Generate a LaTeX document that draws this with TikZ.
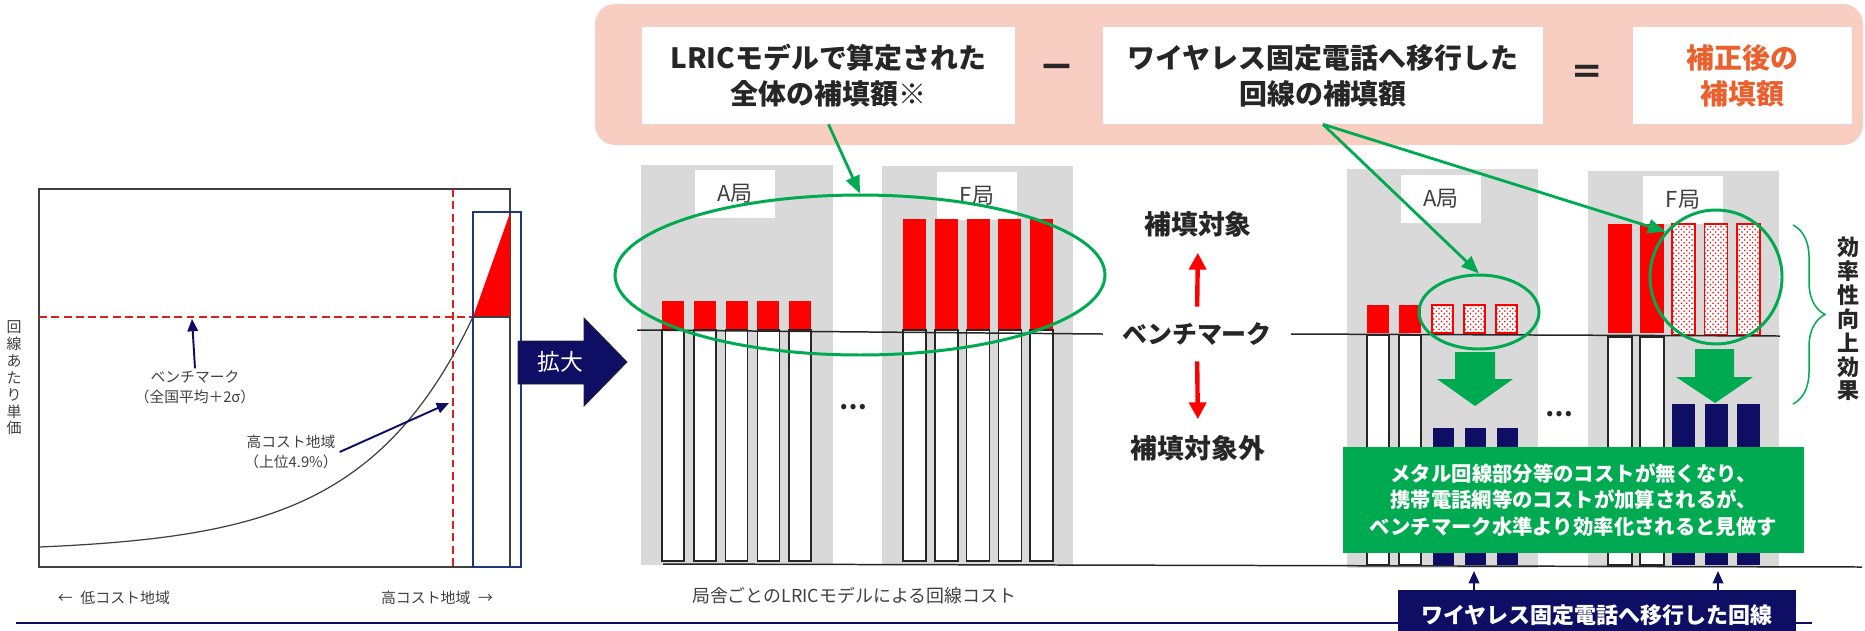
\documentclass[tikz,border=0pt]{standalone}
\usepackage{fontspec}
\setmainfont{Noto Sans CJK JP}
\usepackage{tikz}
\usetikzlibrary{arrows.meta,patterns,shapes.geometric,decorations.pathreplacing}
\definecolor{navy}{RGB}{14,14,100}
\definecolor{rectblue}{RGB}{31,56,120}
\definecolor{pinkbg}{RGB}{248,206,194}
\definecolor{panelgray}{RGB}{217,217,217}
\definecolor{txtgray}{RGB}{64,64,64}
\definecolor{darktxt}{RGB}{38,38,38}
\definecolor{mygreen}{RGB}{0,170,80}
\definecolor{orangetxt}{RGB}{236,96,46}
\definecolor{dashred}{RGB}{220,30,30}
\tikzset{
	smalltext/.style={text=txtgray,font=\fontsize{8.4pt}{11.3pt}\selectfont,align=center,inner sep=1pt},
	axistext/.style={text=txtgray,font=\fontsize{8.5pt}{9.6pt}\selectfont,align=center,inner sep=0pt},
	labelbox/.style={fill=white,text=txtgray,font=\fontsize{12.5pt}{14pt}\selectfont,minimum width=1.6cm,minimum height=0.96cm,inner sep=0pt},
	bigtext/.style={text=darktxt,font=\bfseries\fontsize{14.2pt}{16pt}\selectfont,inner sep=0.06cm},
	formbox/.style={fill=white,font=\bfseries\fontsize{15.9pt}{20.4pt}\selectfont,text=darktxt,align=center,inner sep=0pt,minimum height=1.94cm},
	barline/.style={draw=darktxt,fill=white,line width=0.85pt},
	dotbar/.style={draw=red,fill=white,line width=0.85pt,postaction={pattern=crosshatch dots,pattern color=red}},
	hl/.style={draw=mygreen,line width=1.7pt,ellipse,inner sep=0pt},
	navyarrow/.style={navy,line width=1.1pt,-{Triangle[length=7pt,width=6pt]}},
	greenarrow/.style={mygreen,line width=1.6pt,-{Triangle[length=10pt,width=8pt]}},
	redarrow/.style={red,line width=2.5pt,-{Triangle[length=9.6pt,width=9.6pt]},shorten <=0.25cm,shorten >=0.25cm},
	dashline/.style={draw=dashred,line width=1.1pt,dash pattern=on 4.5pt off 2.5pt},
	bmline/.style={draw=darktxt,line width=0.85pt}
}
\begin{document}
\begin{tikzpicture}[x=0.02cm,y=-0.02cm]
	\useasboundingbox (0,0) rectangle (1865,630);
	\draw[draw=txtgray,line width=1.1pt] (39,189) rectangle (510,567);
	\draw[dashline] (39,317) -- (473,317);
	\draw[dashline] (453,189) -- (453,567);
	\draw[draw=txtgray,line width=0.7pt] plot[domain=39:473,samples=100] (\x,{547-4.72*(exp(0.009*(\x-39))-1)});
	\fill[red] (473,317) -- (510,213) -- (510,317) -- cycle;
	\draw[draw=txtgray,line width=0.6pt] (473,317) -- (510,317);
	\draw[rectblue,line width=1.5pt] (473,212) rectangle (521,567);
	\node[smalltext] (bmlabel) at (195,387) {ベンチマーク\\（全国平均＋2σ）};
	\coordinate (bmpt) at (192,319);
	\draw[navyarrow] (bmlabel.north) -- (bmpt);
	\node[smalltext] (hclabel) at (291,452) {高コスト地域\\（上位4.9\%）};
	\coordinate (hcpt) at (449,403);
	\draw[navyarrow] (hclabel.east) -- (hcpt);
	\node[axistext] (yaxis) at (14,378) {回\\線\\あ\\た\\り\\単\\価};
	\node[axistext] (lowcost) at (114,598) {←\enspace 低コスト地域};
	\node[axistext] (highcost) at (437,598) {高コスト地域\enspace →};
	\draw[navy,line width=0.85pt] (16,623) -- (1812,623);
	\draw[fill=navy,draw=darktxt,line width=0.5pt] (518,341) -- (584,341) -- (584,318) -- (627,362) -- (584,406) -- (584,384) -- (518,384) -- cycle;
	\node[text=white,font=\fontsize{13pt}{14pt}\selectfont,inner sep=0pt] (expand) at (560,362) {拡大};

	\fill[panelgray] (641,165) rectangle (833,565);
	\fill[panelgray] (882,166) rectangle (1073,565);
	\node[labelbox] (lA) at (735,194) {A局};
	\node[labelbox] (lF) at (977,196) {F局};
	\foreach \i in {0,...,4} {
		\fill[red] ({662+31.8*\i},301) rectangle ++(22,29);
		\draw[barline] ({662+31.8*\i},330) rectangle ++(22,231);
		\fill[red] ({903+31.8*\i},219) rectangle ++(23,111);
		\draw[barline] ({903+31.8*\i},330) rectangle ++(23,231);
	}
	\node[text=darktxt,font=\bfseries\fontsize{14pt}{14pt}\selectfont,inner sep=0pt] (dotsL) at (853,407) {…};
	\node[text=txtgray,font=\fontsize{10.2pt}{12pt}\selectfont,inner sep=0pt] (costlabel) at (854,596) {局舎ごとのLRICモデルによる回線コスト};

	\node[bigtext,inner xsep=0.38cm] (bmtext) at (1197,334) {ベンチマーク};
	\node[bigtext,font=\bfseries\fontsize{15.3pt}{16pt}\selectfont] (tgt) at (1198,224) {補填対象};
	\node[bigtext,font=\bfseries\fontsize{15.3pt}{16pt}\selectfont] (nontgt) at (1198,448) {補填対象外};
	\draw[redarrow] (bmtext.north) -- (tgt.south);
	\draw[redarrow] (bmtext.south) -- (nontgt.north);
	\draw[bmline] (637,330) -- (bmtext.west);

	\fill[panelgray] (1347,169) rectangle (1538,568);
	\fill[panelgray] (1588,171) rectangle (1779,568);
	\node[labelbox] (rA) at (1441,199) {A局};
	\node[labelbox] (rF) at (1683,200) {F局};
	\foreach \i in {0,1} {
		\fill[red] ({1367+32*\i},305) rectangle ++(22,28);
		\draw[barline] ({1367+32*\i},335) rectangle ++(22,230);
		\fill[red] ({1608+32*\i},224) rectangle ++(24,109);
		\draw[barline] ({1608+32*\i},337) rectangle ++(24,228);
	}
	\foreach \i in {0,1,2} {
		\draw[dotbar] ({1432+32*\i},305) rectangle ++(21,28);
		\fill[navy] ({1433+32*\i},428) rectangle ++(21,137);
		\draw[dotbar] ({1672+32.5*\i},224) rectangle ++(23,111);
		\fill[navy] ({1672+32.5*\i},404) rectangle ++(23,161);
	}
	\draw[bmline] (bmtext.east) -- (1780,336);
	\draw[bmline] (663,564) -- (1862,567);
	\node[text=darktxt,font=\bfseries\fontsize{14pt}{14pt}\selectfont,inner sep=0pt] (dotsR) at (1559,414) {…};
	\fill[mygreen] (1455,352) -- (1495,352) -- (1495,379) -- (1513,379) -- (1475,406) -- (1437,379) -- (1455,379) -- cycle;
	\fill[mygreen] (1695,349) -- (1734,349) -- (1734,377) -- (1753,377) -- (1715,403) -- (1676,377) -- (1695,377) -- cycle;
	\node[fill=mygreen,text=white,font=\bfseries\fontsize{11.6pt}{15.3pt}\selectfont,align=center,minimum width=9.22cm,minimum height=2.12cm,inner sep=0pt] (note) at (1573.5,500) {メタル回線部分等のコストが無くなり、\\携帯電話網等のコストが加算されるが、\\ベンチマーク水準より効率化されると見做す};
	\node[fill=navy,text=white,font=\bfseries\fontsize{12.5pt}{14pt}\selectfont,minimum width=7.96cm,minimum height=1cm,inner sep=0pt] (wireless) at (1597,615) {ワイヤレス固定電話へ移行した回線};
	\coordinate (upA) at (1474,571);
	\coordinate (upF) at (1718,571);
	\draw[navyarrow] (wireless.north -| upA) -- (upA);
	\draw[navyarrow] (wireless.north -| upF) -- (upF);
	\draw[mygreen,line width=0.85pt,decorate,decoration={brace,amplitude=0.64cm}] (1793,225) -- (1793,404);
	\node[text=darktxt,font=\bfseries\fontsize{12.5pt}{13.6pt}\selectfont,align=center,inner sep=0pt] (effect) at (1848,319) {効\\率\\性\\向\\上\\効\\果};

	\fill[pinkbg,rounded corners=0.4cm] (595,4) rectangle (1863,145);
	\node[formbox,minimum width=7.46cm] (total) at (828.5,75.5) {LRICモデルで算定された\\全体の補填額※};
	\node[text=darktxt,font=\bfseries\fontsize{21pt}{21pt}\selectfont,inner sep=0pt] (minus) at (1057,72) {－};
	\node[text=darktxt,font=\bfseries\fontsize{19pt}{19pt}\selectfont,inner sep=0pt] (equals) at (1587,75) {＝};
	\node[formbox,minimum width=8.8cm] (moved) at (1323,75.5) {ワイヤレス固定電話へ移行した\\回線の補填額};
	\node[formbox,minimum width=4.38cm,text=orangetxt] (result) at (1742.5,75.5) {補正後の\\補填額};

	\node[hl,minimum width=9.8cm,minimum height=3.2cm] (ellAll) at (860,275) {};
	\node[hl,minimum width=2.4cm,minimum height=1.48cm] (ellA) at (1479,312) {};
	\node[hl,minimum width=2.64cm,minimum height=2.68cm] (ellF) at (1716,277) {};
	\draw[greenarrow] (total.south) -- (ellAll.north);
	\draw[greenarrow] (moved.south) -- (ellA.north);
	\draw[greenarrow] (moved.south) -- (ellF.138);
\end{tikzpicture}
\end{document}
